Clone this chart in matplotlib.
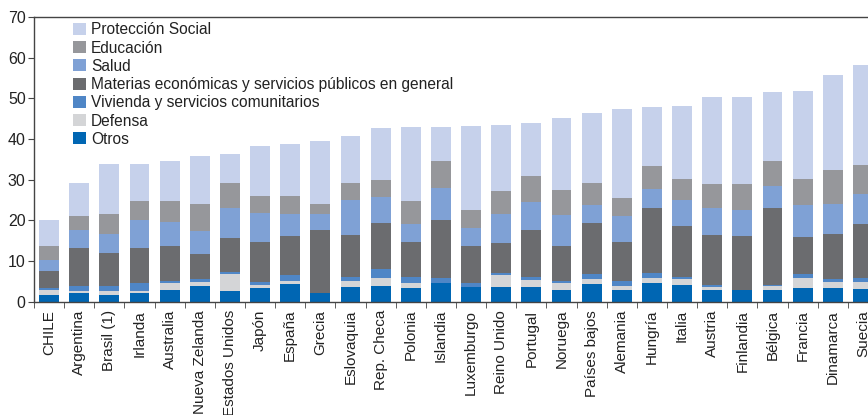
import matplotlib
matplotlib.use("Agg")
import matplotlib.pyplot as plt
import numpy as np

plt.rcParams['font.family'] = ['Liberation Sans', 'DejaVu Sans']

countries = ["CHILE", "Argentina", "Brasil (1)", "Irlanda", "Australia", "Nueva Zelanda",
             "Estados Unidos", "Japón", "España", "Grecia", "Eslovaquia", "Rep. Checa",
             "Polonia", "Islandia", "Luxemburgo", "Reino Unido", "Portugal", "Noruega",
             "Países bajos", "Alemania", "Hungría", "Italia", "Austria", "Finlandia",
             "Bélgica", "Francia", "Dinamarca", "Suecia"]

otros      = [1.7, 2.0, 1.7, 2.0, 2.9, 3.9, 2.6, 3.4, 4.3, 2.0, 3.6, 3.9, 3.4, 4.6,
              3.6, 3.6, 3.6, 2.9, 4.3, 2.9, 4.6, 4.1, 2.9, 2.9, 2.9, 3.4, 3.4, 3.1]
defensa    = [1.25, 0.6, 0.9, 0.6, 1.7, 0.9, 4.2, 0.7, 0.8, 0.0, 1.5, 1.9, 1.2, 0.0,
              0.0, 2.9, 1.7, 1.7, 1.3, 0.9, 1.2, 1.5, 0.7, 0.0, 0.9, 2.4, 1.4, 1.7]
vivienda   = [0.25, 1.3, 1.3, 2.0, 0.5, 0.8, 0.5, 0.7, 1.4, 0.0, 1.0, 2.2, 1.5, 1.2,
              1.0, 0.5, 0.8, 0.5, 1.2, 1.3, 1.2, 0.5, 0.5, 0.0, 0.3, 1.0, 0.8, 1.0]
materias   = [4.3, 9.3, 8.1, 8.6, 8.6, 6.1, 8.3, 9.9, 9.6, 15.6, 10.3, 11.3, 8.6, 14.3,
              9.1, 7.4, 11.5, 8.6, 12.5, 9.6, 16.0, 12.5, 12.3, 13.2, 18.9, 9.1, 11.0, 13.3]
salud      = [2.7, 4.5, 4.7, 6.9, 5.9, 5.7, 7.4, 7.1, 5.4, 3.9, 8.6, 6.4, 4.4, 7.8,
              4.4, 7.1, 7.0, 7.6, 4.4, 6.3, 4.7, 6.4, 6.6, 6.4, 5.4, 7.8, 7.4, 7.3]
educacion  = [3.5, 3.3, 4.8, 4.6, 5.1, 6.6, 6.1, 4.2, 4.5, 2.5, 4.1, 4.2, 5.6, 6.7,
              4.4, 5.7, 6.3, 6.1, 5.4, 4.5, 5.6, 5.1, 5.9, 6.4, 6.2, 6.4, 8.3, 7.2]
proteccion = [6.4, 8.1, 12.3, 9.1, 9.9, 11.8, 7.2, 12.2, 12.7, 15.5, 11.6, 12.8, 18.2, 8.3,
              20.6, 16.2, 13.0, 17.7, 17.2, 21.8, 14.5, 18.0, 21.4, 21.4, 16.9, 21.6, 23.4, 24.5]

series = [
    ("Otros", otros, "#0066b3"),
    ("Defensa", defensa, "#d4d5d7"),
    ("Vivienda y servicios comunitarios", vivienda, "#4f86c6"),
    ("Materias económicas y servicios públicos en general", materias, "#6b6c6f"),
    ("Salud", salud, "#7fa1d5"),
    ("Educación", educacion, "#96979b"),
    ("Protección Social", proteccion, "#c6d1eb"),
]

fig = plt.figure(figsize=(8.68, 4.15), dpi=100)
ax = fig.add_axes([34/868, 113.5/415, 844/868, 284.5/415])

x = np.arange(len(countries))
bottom = np.zeros(len(countries))
handles = []
for name, vals, col in series:
    vals = np.array(vals)
    b = ax.bar(x, vals, bottom=bottom, width=0.66, color=col, label=name, linewidth=0)
    handles.append(b)
    bottom += vals

ax.set_xlim(-0.5, len(countries) - 0.5)
ax.set_ylim(0, 70)
ax.set_yticks(np.arange(0, 71, 10))
ax.set_xticks(x)
ax.set_xticklabels(countries, rotation=90, fontsize=11, color="#222222")
ax.set_xticks(np.arange(-0.5, len(countries), 1), minor=True)
ax.tick_params(axis='x', which='major', length=0, pad=6)
ax.tick_params(axis='x', which='minor', length=4, direction='out', color="#444444")
ax.tick_params(axis='y', length=4, direction='out', labelsize=11.5, color="#444444",
               labelcolor="#222222", pad=2)
for s in ["left", "bottom", "top"]:
    ax.spines[s].set_color("#444444")
    ax.spines[s].set_linewidth(1.0)
ax.spines["right"].set_visible(False)

leg = ax.legend(handles[::-1], [s[0] for s in series][::-1], loc="upper left",
                bbox_to_anchor=(0.041, 0.998), frameon=False, fontsize=11.2,
                handlelength=0.8, handleheight=0.8, labelspacing=0.21,
                handletextpad=0.35, borderaxespad=0.1, borderpad=0.2)
for t in leg.get_texts():
    t.set_color("#222222")

fig.savefig("out.png", dpi=100)
